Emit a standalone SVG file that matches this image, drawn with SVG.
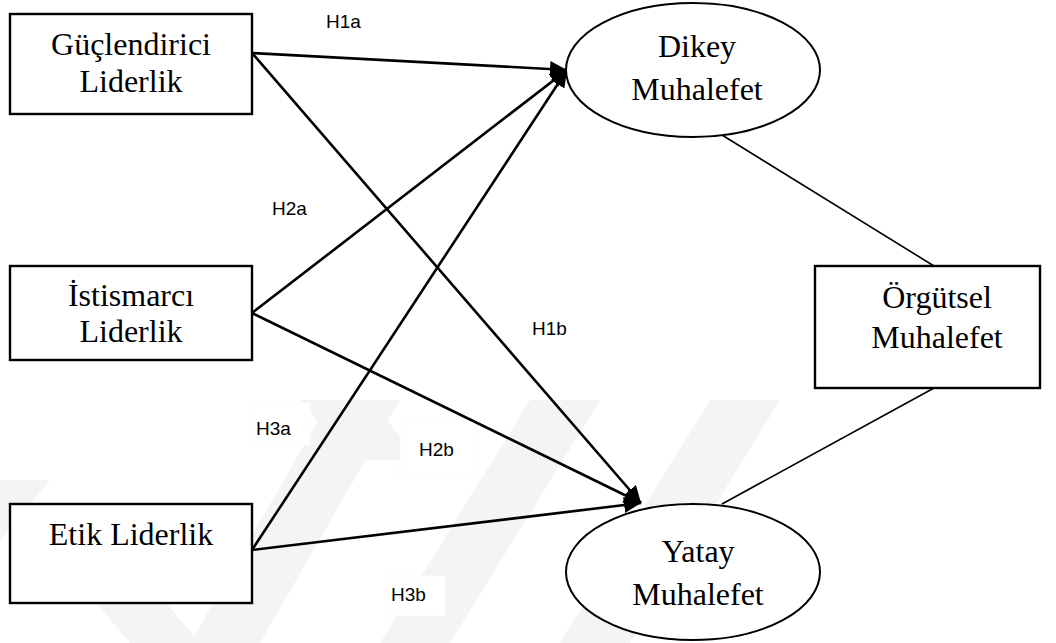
<svg xmlns="http://www.w3.org/2000/svg" width="1056" height="643" viewBox="0 0 1056 643">
<style>
.box{fill:#fff;stroke:#000;stroke-width:2.4}
.ell{fill:#fff;stroke:#000;stroke-width:2}
.t{font-family:"Liberation Serif","Times New Roman",serif;font-size:32px;fill:#000;text-anchor:middle}
.lab{font-family:"Liberation Sans",Arial,sans-serif;font-size:19px;fill:#000}
.arr{stroke:#000;stroke-width:2.6;fill:none;marker-end:url(#ah)}
.ln{stroke:#000;stroke-width:1.6;fill:none}
.wm{fill:#f4f4f4}
.lb{fill:#fff;stroke:#fbfbfb;stroke-width:1}
</style>
<defs>
<marker id="ah" markerUnits="userSpaceOnUse" markerWidth="18" markerHeight="16" refX="17" refY="8" orient="auto">
<path d="M0,0 L17,8 L0,16 Z" fill="#000"/>
</marker>
</defs>
<rect width="1056" height="643" fill="#fff"/>
<g id="watermark">
<polygon class="wm" points="60,560 130,560 200,643 130,643"/>
<polygon class="wm" points="190,643 260,643 400,400 330,400"/>
<polygon class="wm" points="0,480 50,480 0,540"/>
<polygon class="wm" points="380,643 450,643 600,400 530,400"/>
<polygon class="wm" points="560,643 630,643 780,400 710,400"/>
<polygon class="wm" points="300,400 370,400 420,460 350,460"/>
</g>
<g id="label-boxes">
<rect class="lb" x="250" y="403" width="60" height="42"/>
<rect class="lb" x="400" y="421" width="75" height="58"/>
<rect class="lb" x="385" y="576" width="60" height="40"/>
</g>
<g id="connectors">
<line class="arr" x1="252" y1="53" x2="567" y2="70"/>
<line class="arr" x1="252" y1="53" x2="641" y2="503"/>
<line class="arr" x1="252" y1="313" x2="567" y2="70"/>
<line class="arr" x1="252" y1="313" x2="641" y2="503"/>
<line class="arr" x1="252" y1="550" x2="567" y2="70"/>
<line class="arr" x1="252" y1="550" x2="641" y2="503"/>
<line class="ln" x1="722" y1="135" x2="934" y2="266"/>
<line class="ln" x1="722" y1="504" x2="934" y2="388"/>
</g>
<g id="labels">
<text class="lab" x="326" y="28">H1a</text>
<text class="lab" x="272" y="215">H2a</text>
<text class="lab" x="532" y="335">H1b</text>
<text class="lab" x="256" y="435">H3a</text>
<text class="lab" x="419" y="456">H2b</text>
<text class="lab" x="391" y="601">H3b</text>
</g>
<g id="guclendirici">
<rect class="box" x="10" y="14" width="242" height="100"/>
<text class="t" x="131" y="55">Güçlendirici</text>
<text class="t" x="131" y="92">Liderlik</text>
</g>
<g id="istismarci">
<rect class="box" x="10" y="266" width="242" height="94"/>
<text class="t" x="131" y="306">İstismarcı</text>
<text class="t" x="131" y="342">Liderlik</text>
</g>
<g id="etik">
<rect class="box" x="10" y="504" width="242" height="99"/>
<text class="t" x="131" y="545">Etik Liderlik</text>
</g>
<g id="dikey">
<ellipse class="ell" cx="693" cy="70" rx="127" ry="67"/>
<text class="t" x="697" y="57">Dikey</text>
<text class="t" x="697" y="100">Muhalefet</text>
</g>
<g id="yatay">
<ellipse class="ell" cx="693" cy="572" rx="127" ry="68"/>
<text class="t" x="698" y="562">Yatay</text>
<text class="t" x="698" y="605">Muhalefet</text>
</g>
<g id="orgutsel">
<rect class="box" x="815" y="266" width="225" height="122"/>
<text class="t" x="937" y="308">Örgütsel</text>
<text class="t" x="937" y="348">Muhalefet</text>
</g>
</svg>
